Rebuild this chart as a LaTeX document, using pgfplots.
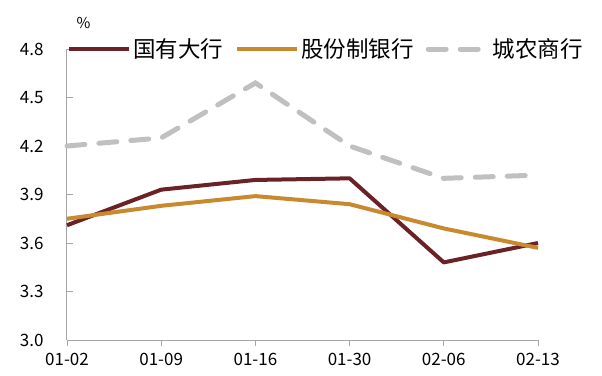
\documentclass[border=0pt]{standalone}
\usepackage{fontspec}
\setmainfont{Noto Sans CJK SC}
\usepackage{pgfplots}
\pgfplotsset{compat=1.18}
\definecolor{cRed}{HTML}{6B2226}
\definecolor{cOra}{HTML}{C8892F}
\definecolor{cGry}{HTML}{C0C0C0}
\definecolor{cAx}{HTML}{A6A6A6}
\begin{document}
\begin{tikzpicture}
\begin{axis}[
  at={(0,0)}, anchor=south west,
  scale only axis, width=471pt, height=291pt,
  xmin=0, xmax=5, ymin=3.0, ymax=4.8,
  xtick={0,...,5},
  xticklabels={01-02,01-09,01-16,01-30,02-06,02-13},
  ytick={3.0,3.3,3.6,3.9,4.2,4.5,4.8},
  yticklabel style={/pgf/number format/fixed, /pgf/number format/fixed zerofill, /pgf/number format/precision=1},
  /pgf/number format/assume math mode=true,
  tick label style={font=\fontsize{17}{19}\selectfont, text=black},
  axis x line*=bottom, axis y line*=left,
  axis line style={cAx, line width=1pt},
  x axis line style={-}, y axis line style={-},
  xtick style={cAx, line width=0.8pt},
  ytick style={cAx, line width=0.8pt},
  xtick align=outside, ytick align=inside,
  major tick length=6pt,
  xticklabel style={yshift=-4pt},
  yticklabel style={xshift=-20pt},
  clip=false,
  legend columns=3,
  legend style={draw=none, fill=none, at={(0,1)}, anchor=west, inner sep=0pt,
    font=\fontsize{22.5}{25}\selectfont, /tikz/every even column/.append style={column sep=10pt}},
  legend cell align=left,
  legend image code/.code={\draw[#1] (0pt,0pt) -- (60pt,0pt);},
]
\addplot[cRed, line width=4pt, line join=round] coordinates {(0,3.71) (1,3.93) (2,3.99) (3,4.00) (4,3.48) (5,3.60)};
\addlegendentry{国有大行}
\addplot[cOra, line width=4pt, line join=round] coordinates {(0,3.75) (1,3.83) (2,3.89) (3,3.84) (4,3.69) (5,3.57)};
\addlegendentry{股份制银行}
\addplot[cGry, line width=5pt, line cap=round, dash pattern=on 18pt off 14pt] coordinates {(0,4.20) (1,4.25) (2,4.59) (3,4.20) (4,4.00) (5,4.02)};
\addlegendentry{城农商行}
\node[anchor=south west, font=\fontsize{15}{16}\selectfont, inner sep=0pt] at (rel axis cs:0.02,1.07) {\%};
\end{axis}
\pgfresetboundingbox
\path[use as bounding box] (-67pt,-35pt) rectangle (535pt,340pt);
\end{tikzpicture}
\end{document}
